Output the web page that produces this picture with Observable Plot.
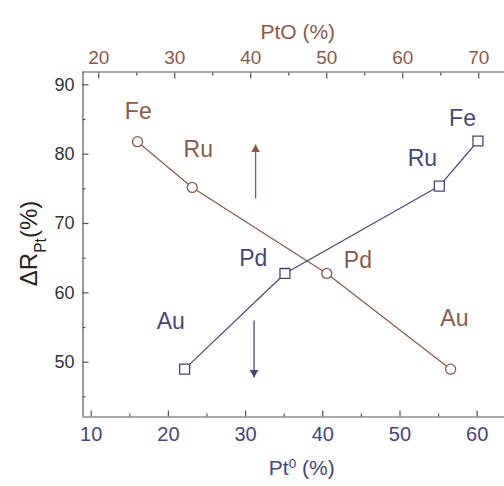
<!DOCTYPE html>
<html><head><meta charset="utf-8">
<script src="https://cdn.jsdelivr.net/npm/d3@7"></script>
<script src="https://cdn.jsdelivr.net/npm/@observablehq/plot@0.6"></script>
<style>body{margin:0;background:#fff;} svg{display:block;}</style>
</head><body><div id="chart"></div>
<script>
// ---- data ----
const elements = ["Fe", "Ru", "Pd", "Au"];
// blue series (bottom axis, Pt0 %)
const pt0Values = [60.1, 55.1, 35.1, 22.1];
const pt0Delta = [81.9, 75.4, 62.8, 49.0];
const pt0LabelX = [58.1, 52.9, 31.0, 20.3];
const pt0LabelY = [85.1, 79.3, 64.9, 55.8];
// brown series (top axis, PtO %)
const ptoValues = [25.1, 32.3, 50.0, 66.3];
const ptoDelta = [81.8, 75.2, 62.8, 49.0];
const ptoLabelX = [25.2, 33.1, 54.1, 66.8];
const ptoLabelY = [86.2, 80.7, 64.6, 56.3];
// ticks
const bottomTicks = [10, 20, 30, 40, 50, 60];
const bottomMinor = [15, 25, 35, 45, 55];
const topTicks = [20, 30, 40, 50, 60, 70];
const topMinor = [25, 35, 45, 55, 65];
const yTicks = [50, 60, 70, 80, 90];
const yMinor = [45, 55, 65, 75, 85];
// arrows (bottom-axis x, y start, y tip)
const arrowX = [31.3, 31.1];
const arrowStart = [73.6, 56.0];
const arrowTip = [81.4, 47.8];

// ---- helpers ----
const brown = "#8a5a47", blue = "#47467a", axisColor = "#555";
const ptoToX = p => 10.98 + 0.9845 * (p - 20);
const xToPto = x => Math.round((x - 10.98) / 0.9845 + 20);

const blueData = elements.map((e, i) => ({el: e, x: pt0Values[i], y: pt0Delta[i], lx: pt0LabelX[i], ly: pt0LabelY[i]}));
const brownData = elements.map((e, i) => ({el: e, x: ptoToX(ptoValues[i]), y: ptoDelta[i], lx: ptoToX(ptoLabelX[i]), ly: ptoLabelY[i]}));
const upArrow = [{x: arrowX[0], y1: arrowStart[0], y2: arrowTip[0]}];
const downArrow = [{x: arrowX[1], y1: arrowStart[1], y2: arrowTip[1]}];

const xDomain = [8.94, 63.54], yDomain = [42.1, 91.85];

const chart = Plot.plot({
  width: 504, height: 486,
  marginLeft: 82.5, marginRight: 0, marginTop: 71.5, marginBottom: 69.5,
  x: {domain: xDomain},
  y: {domain: yDomain},
  style: {fontFamily: "'Liberation Sans', Arial, sans-serif", background: "#fff"},
  marks: [
    // frame lines
    Plot.ruleX([xDomain[0]], {stroke: axisColor, strokeWidth: 1.2}),
    Plot.ruleY([yDomain[0]], {stroke: axisColor, strokeWidth: 1.2}),
    Plot.ruleY([yDomain[1]], {stroke: axisColor, strokeWidth: 1.2}),
    // bottom axis
    Plot.axisX({anchor: "bottom", ticks: bottomTicks, tickSize: -6, fill: "none", stroke: axisColor, strokeWidth: 1.2, label: null}),
    Plot.axisX({anchor: "bottom", ticks: bottomMinor, tickSize: -3, fill: "none", stroke: axisColor, strokeWidth: 1.2, label: null}),
    Plot.axisX({anchor: "bottom", ticks: bottomTicks, tickSize: 0, tickPadding: 10, fontSize: 20, fill: blue, label: null}),
    // top axis (PtO)
    Plot.axisX(topTicks.map(ptoToX), {anchor: "top", tickSize: -6, fill: "none", stroke: axisColor, strokeWidth: 1.2, label: null}),
    Plot.axisX(topMinor.map(ptoToX), {anchor: "top", tickSize: -3, fill: "none", stroke: axisColor, strokeWidth: 1.2, label: null}),
    Plot.axisX(topTicks.map(ptoToX), {anchor: "top", tickSize: 0, tickPadding: 8, fontSize: 19, fill: brown, tickFormat: xToPto, label: null}),
    // left axis
    Plot.axisY({anchor: "left", ticks: yTicks, tickSize: -6, fill: "none", stroke: axisColor, strokeWidth: 1.2, label: null}),
    Plot.axisY({anchor: "left", ticks: yMinor, tickSize: -3, fill: "none", stroke: axisColor, strokeWidth: 1.2, label: null}),
    Plot.axisY({anchor: "left", ticks: yTicks, tickSize: 0, tickPadding: 8.5, fontSize: 18, fill: "#333", label: null}),
    // series lines
    Plot.line(brownData, {x: "x", y: "y", stroke: brown, strokeWidth: 1.2}),
    Plot.line(blueData, {x: "x", y: "y", stroke: blue, strokeWidth: 1.2}),
    Plot.dot(brownData, {x: "x", y: "y", r: 5, fill: "#fff", stroke: brown, strokeWidth: 1.3}),
    Plot.dot(blueData, {x: "x", y: "y", r: 5.6, symbol: "square", fill: "#fff", stroke: blue, strokeWidth: 1.3}),
    // labels
    Plot.text(brownData, {x: "lx", y: "ly", text: "el", fill: brown, fontSize: 23}),
    Plot.text(blueData, {x: "lx", y: "ly", text: "el", fill: blue, fontSize: 23}),
    // arrows
    Plot.link(upArrow, {x1: "x", x2: "x", y1: "y1", y2: "y2", stroke: brown, strokeWidth: 1.3}),
    Plot.dot(upArrow, {x: "x", y: "y2", symbol: "triangle", r: 3.2, fill: brown, stroke: "none", dy: 5}),
    Plot.link(downArrow, {x1: "x", x2: "x", y1: "y1", y2: "y2", stroke: blue, strokeWidth: 1.3}),
    Plot.dot(downArrow, {x: "x", y: "y2", symbol: "triangle", rotate: 180, r: 3.2, fill: blue, stroke: "none", dy: -5}),
    // axis titles
    Plot.text(["PtO (%)"], {frameAnchor: "top", dx: 4, dy: -48, fontSize: 21, fill: brown}),
    Plot.text(["Pt"], {frameAnchor: "bottom", dx: 8, dy: 57.5, fontSize: 21, fill: blue}),
    Plot.text(["ΔR"], {frameAnchor: "left", textAnchor: "middle", dx: -53.5, dy: -1, rotate: -90, fontSize: 24, fill: "#222"})
  ]
});

document.getElementById("chart").appendChild(chart);

// superscript / subscript parts of the titles
const texts = Array.from(chart.querySelectorAll("text"));
const ns = "http://www.w3.org/2000/svg";
function addSpan(el, str, shift) {
  const t = document.createElementNS(ns, "tspan");
  if (shift) { t.setAttribute("baseline-shift", shift); t.setAttribute("font-size", "0.65em"); }
  t.textContent = str;
  el.appendChild(t);
}
const bt = texts.find(t => t.textContent === "Pt");
if (bt) { addSpan(bt, "0", "super"); addSpan(bt, " (%)", null); }
const lt = texts.find(t => t.textContent === "ΔR");
if (lt) { addSpan(lt, "Pt", "sub"); addSpan(lt, "(%)", null); }
</script>
</body></html>
